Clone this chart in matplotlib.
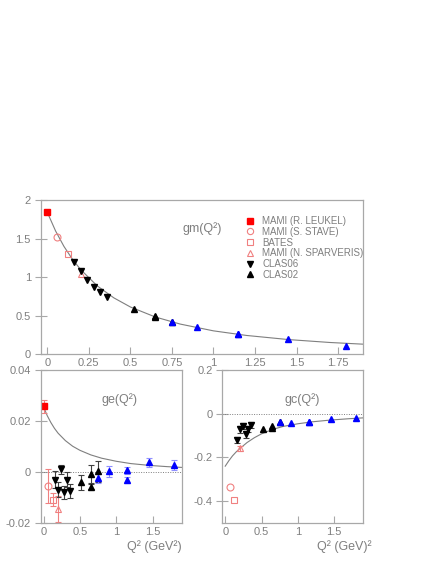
import matplotlib
matplotlib.use('Agg')
import matplotlib.pyplot as plt
from matplotlib.ticker import FuncFormatter

# Q^2 values and form factors
q_leukel = [0.0]
gm_leukel = [1.84]
ge_leukel = [0.0257]
ge_leukel_err = [0.0026]

q_stave = [0.06]
gm_stave = [1.52]
ge_stave = [-0.0055]
ge_stave_err = [0.0067]
gc_stave = [-0.334]

q_bates = [0.127]
gm_bates = [1.30]
ge_bates = [-0.0109]
ge_bates_err = [0.0026]
gc_bates = [-0.393]

q_sparv = [0.20]
gm_sparv = [1.04]
ge_sparv = [-0.0145]
ge_sparv_err = [0.005]
gc_sparv = [-0.158]
gc_sparv_err = [0.012]

q_clas06 = [0.16, 0.20, 0.24, 0.28, 0.32, 0.36]
gm_clas06 = [1.20, 1.08, 0.96, 0.87, 0.81, 0.74]
ge_clas06 = [-0.0030, -0.0070, 0.0010, -0.0080, -0.0030, -0.0075]
ge_clas06_err = [0.0032, 0.0030, 0.0016, 0.0027, 0.0030, 0.0027]
gc_clas06 = [-0.120, -0.072, -0.058, -0.095, -0.070, -0.052]
gc_clas06_err = [0.012, 0.014, 0.014, 0.014, 0.013, 0.013]

q_clas02 = [0.52, 0.65, 0.65, 0.75]
gm_clas02 = [0.59, 0.48, 0.49, 0.41]
ge_clas02 = [-0.0041, -0.0007, -0.0057, 0.0002]
ge_clas02_err = [0.0030, 0.0035, 0.0010, 0.0040]
gc_clas02 = [-0.072, -0.057, -0.065, -0.038]

q_blue = [0.75, 0.90, 1.15, 1.15, 1.45, 1.80]
gm_blue = [0.41, 0.35, 0.26, 0.26, 0.19, 0.11]
ge_blue = [-0.0024, 0.0002, 0.0006, -0.0033, 0.0038, 0.0026]
ge_blue_err = [0.0018, 0.0020, 0.0015, 0.0012, 0.0018, 0.0020]
gc_blue = [-0.038, -0.041, -0.037, -0.037, -0.026, -0.020]

# model curves, read at a few Q^2 points
q_curve = [0, 0.05, 0.1, 0.15, 0.2, 0.3, 0.4, 0.5, 0.65, 0.8, 1.0, 1.2, 1.45, 1.7, 1.9]
gm_curve = [1.84, 1.597, 1.398, 1.235, 1.098, 0.886, 0.730, 0.611, 0.481, 0.389,
            0.301, 0.241, 0.188, 0.150, 0.128]
ge_curve = [0.0255, 0.0221, 0.0194, 0.0171, 0.0152, 0.0123, 0.0101, 0.0085, 0.0067,
            0.0054, 0.0042, 0.0033, 0.0026, 0.0021, 0.0018]
gc_curve = [-0.240, -0.215, -0.193, -0.175, -0.160, -0.132, -0.110, -0.092, -0.072,
            -0.058, -0.046, -0.037, -0.029, -0.023, -0.019]

plt.rcParams['font.family'] = ['Liberation Sans', 'DejaVu Sans']
grey = '#7f7f7f'
frame = '#a8a8a8'
red = '#ff0000'
pink = '#f08080'
blue = '#0000ff'

fig = plt.figure(figsize=(4.36, 5.64), dpi=100)
ax_m = fig.add_axes([0.0933, 0.3723, 0.7392, 0.2730])
ax_e = fig.add_axes([0.0933, 0.0727, 0.3234, 0.2713])
ax_c = fig.add_axes([0.5099, 0.0727, 0.3234, 0.2713])


def style(ax, xticks, yticks, ylim):
    ax.set_xlim(-0.04, 1.9)
    ax.set_ylim(*ylim)
    ax.set_xticks(xticks)
    ax.set_yticks(yticks)
    fmt = FuncFormatter(lambda v, p: '%g' % round(v, 4))
    ax.xaxis.set_major_formatter(fmt)
    ax.yaxis.set_major_formatter(fmt)
    ax.tick_params(axis='x', direction='in', length=5, width=0.8, color=frame,
                   labelsize=8, labelcolor=grey, pad=3)
    ax.tick_params(axis='y', direction='inout', length=8, width=0.8, color=frame,
                   labelsize=8, labelcolor=grey, pad=3)
    for s in ax.spines.values():
        s.set_color(frame)
        s.set_linewidth(0.9)


mk = dict(linestyle='none')
eb = dict(capsize=2, elinewidth=0.8, capthick=0.8, linestyle='none')

# ---- gm
ax_m.plot(q_curve, gm_curve, color=grey, lw=0.8)
ax_m.plot(q_leukel, gm_leukel, 's', color=red, ms=5, label='MAMI (R. LEUKEL)', **mk)
ax_m.plot(q_stave, gm_stave, 'o', mfc='none', mec=pink, ms=5, mew=0.8, label='MAMI (S. STAVE)', **mk)
ax_m.plot(q_bates, gm_bates, 's', mfc='none', mec=pink, ms=5, mew=0.8, label='BATES', **mk)
ax_m.plot(q_sparv, gm_sparv, '^', mfc='none', mec=pink, ms=5, mew=0.8, label='MAMI (N. SPARVERIS)', **mk)
ax_m.plot(q_clas06, gm_clas06, 'v', color='black', ms=5, label='CLAS06', **mk)
ax_m.plot(q_clas02, gm_clas02, '^', color='black', ms=5, label='CLAS02', **mk)
ax_m.plot(q_blue, gm_blue, '^', color=blue, ms=5, **mk)
style(ax_m, [0, 0.25, 0.5, 0.75, 1, 1.25, 1.5, 1.75], [0, 0.5, 1, 1.5, 2], (0, 2))
ax_m.text(0.5, 0.816, 'gm(Q²)', transform=ax_m.transAxes, ha='center', va='center',
          fontsize=9, color=grey)
leg = ax_m.legend(loc='upper left', bbox_to_anchor=(0.635, 0.895), frameon=False, fontsize=7,
                  labelspacing=0.07, handlelength=1.0, handletextpad=0.75, borderaxespad=0,
                  borderpad=0, labelcolor=grey, markerscale=0.9)

# ---- ge
ax_e.axhline(0, color=grey, lw=0.7, ls=(0, (1, 1.5)))
ax_e.plot(q_curve, ge_curve, color=grey, lw=0.8)
ax_e.errorbar(q_leukel, ge_leukel, yerr=ge_leukel_err, fmt='s', color=red, ecolor=pink, ms=5, **eb)
ax_e.errorbar(q_stave, ge_stave, yerr=ge_stave_err, fmt='o', mfc='none', mec=pink, ecolor=pink, ms=5, mew=0.8, **eb)
ax_e.errorbar(q_bates, ge_bates, yerr=ge_bates_err, fmt='s', mfc='none', mec=pink, ecolor=pink, ms=5, mew=0.8, **eb)
ax_e.errorbar(q_sparv, ge_sparv, yerr=ge_sparv_err, fmt='^', mfc='none', mec=pink, ecolor=pink, ms=5, mew=0.8, **eb)
ax_e.errorbar(q_clas06, ge_clas06, yerr=ge_clas06_err, fmt='v', color='black', ecolor='#404040', ms=5, **eb)
ax_e.errorbar(q_clas02, ge_clas02, yerr=ge_clas02_err, fmt='^', color='black', ecolor='#404040', ms=5, **eb)
ax_e.errorbar(q_blue, ge_blue, yerr=ge_blue_err, fmt='^', color=blue, ecolor='#9090ff', ms=5, **eb)
style(ax_e, [0, 0.5, 1, 1.5], [-0.02, 0, 0.02, 0.04], (-0.02, 0.04))
ax_e.text(0.562, 0.804, 'ge(Q²)', transform=ax_e.transAxes, ha='center', va='center',
          fontsize=9, color=grey)
ax_e.text(1.0, -0.155, 'Q² (GeV²)', transform=ax_e.transAxes, ha='right', va='center',
          fontsize=9, color=grey)

# ---- gc
ax_c.axhline(0, color=grey, lw=0.7, ls=(0, (1, 1.5)))
ax_c.plot(q_curve, gc_curve, color=grey, lw=0.8)
ax_c.plot(q_stave, gc_stave, 'o', mfc='none', mec=pink, ms=5, mew=0.8, **mk)
ax_c.plot(q_bates, gc_bates, 's', mfc='none', mec=pink, ms=5, mew=0.8, **mk)
ax_c.errorbar(q_sparv, gc_sparv, yerr=gc_sparv_err, fmt='^', mfc='none', mec=pink, ecolor=pink, ms=5, mew=0.8, **eb)
ax_c.errorbar(q_clas06, gc_clas06, yerr=gc_clas06_err, fmt='v', color='black', ecolor='#404040', ms=5, **eb)
ax_c.plot(q_clas02, gc_clas02, '^', color='black', ms=5, **mk)
ax_c.plot(q_blue, gc_blue, '^', color=blue, ms=5, **mk)
style(ax_c, [0, 0.5, 1, 1.5], [-0.4, -0.2, 0, 0.2], (-0.5, 0.2))
ax_c.text(0.563, 0.804, 'gc(Q²)', transform=ax_c.transAxes, ha='center', va='center',
          fontsize=9, color=grey)
ax_c.text(1.06, -0.155, 'Q² (GeV)²', transform=ax_c.transAxes, ha='right', va='center',
          fontsize=9, color=grey)

fig.savefig('out.png', dpi=100)
